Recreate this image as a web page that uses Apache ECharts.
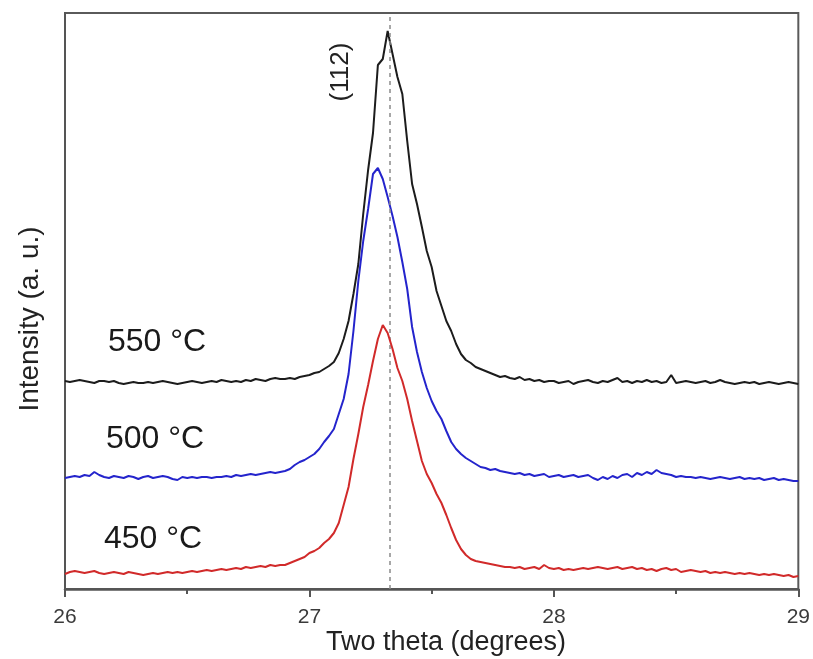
<!DOCTYPE html>
<html>
<head>
<meta charset="utf-8">
<script src="https://cdn.jsdelivr.net/npm/echarts@6/dist/echarts.min.js"></script>
<style>
html,body{margin:0;padding:0;background:#fff;}
#chart{width:813px;height:659px;}
</style>
</head>
<body>
<div id="chart"></div>
<script>
// ---- Data (intensity in arbitrary units, curves offset as in the figure) ----
const thetaStart = 26.0;
const thetaStep = 0.02;
const xTicks = [26, 27, 28, 29];
const peakPosition = 27.33;      // (112) reflection
const peakLabel = '(112)';
const seriesNames = ['550 °C', '500 °C', '450 °C'];

const int550 = [
  208,207,208,209,208,207,206,208,208,207,
  208,206,205,206,207,206,206,207,206,207,
  208,207,206,205,206,207,208,207,206,207,
  208,207,209,208,207,208,207,209,208,210,
  209,208,210,211,210,
  210,211,210,212,213,
  214,216,217,220,223,227,236,250,268,295,
  325,375,419,456,524,530,558,535,512,495,
  448,405,385,362,338,322,298,283,268,258,
  245,235,229,226,222,220,218,216,214,212,
  213,211,210,212,209,210,208,209,207,208,
  208,206,207,208,205,207,208,209,207,206,
  208,207,209,211,207,208,206,208,207,209,
  207,208,206,207,214,206,207,208,207,206,
  207,208,206,207,209,207,206,205,206,207,
  206,207,205,206,207,206,205,206,207,206,205
];

const int500 = [
  111,112,113,112,114,113,117,114,112,111,
  113,112,111,113,112,110,112,113,111,112,
  113,112,110,109,112,111,112,111,112,112,
  111,112,112,113,112,114,113,114,115,114,
  115,116,117,116,117,
  118,120,124,127,129,
  132,135,140,147,153,160,175,190,215,258,
  308,348,380,415,421,410,392,373,352,327,
  300,262,237,217,201,188,178,170,158,147,
  140,135,131,128,125,122,121,119,120,118,
  117,116,115,116,114,115,113,114,115,112,
  113,114,112,113,114,112,113,114,111,109,
  112,110,113,111,114,115,112,116,114,117,
  115,119,116,115,114,112,113,112,112,111,
  112,111,110,111,112,111,110,111,112,110,
  111,110,111,109,110,111,109,110,109,108,108
];

const int450 = [
  15,17,18,17,16,17,18,16,15,16,
  17,16,15,17,16,15,14,15,16,15,
  16,17,16,17,16,17,18,17,18,19,
  18,19,20,19,20,21,20,22,21,22,
  23,22,24,23,24,
  24,26,28,30,32,
  36,38,41,46,50,56,66,84,102,130,
  155,182,204,228,250,264,256,240,221,208,
  190,168,148,128,115,106,95,86,74,61,
  49,40,34,30,28,27,26,25,24,23,
  22,22,21,22,20,21,22,20,24,21,
  20,21,19,20,19,20,21,20,21,22,
  21,20,21,22,20,21,22,20,21,19,
  20,18,20,21,19,20,17,18,19,18,
  17,18,16,17,16,17,16,15,16,15,
  16,15,14,15,14,15,14,13,14,12,13
];

// ---- Build [x, y] pairs ----
function pairs(vals) {
  return vals.map((v, i) => [+(thetaStart + i * thetaStep).toFixed(2), v]);
}

const FONT = "'Liberation Sans', Arial, sans-serif";
const chart = echarts.init(document.getElementById('chart'), null, {renderer: 'canvas'});

const option = {
  backgroundColor: '#ffffff',
  animation: false,
  grid: {
    left: 65, right: 14, top: 13, bottom: 70,
    show: true, borderColor: '#5a5a5a', borderWidth: 2, backgroundColor: 'transparent'
  },
  xAxis: {
    type: 'value',
    min: xTicks[0], max: xTicks[xTicks.length - 1], interval: 1,
    axisLine: {show: true, onZero: false, lineStyle: {color: '#555', width: 2.5}},
    axisTick: {show: true, inside: false, length: 8, lineStyle: {color: '#555', width: 2}},
    minorTick: {show: true, splitNumber: 2, length: 5, lineStyle: {color: '#555', width: 2}},
    splitLine: {show: false},
    minorSplitLine: {show: false},
    axisLabel: {
      show: true, margin: 18, color: '#3a3a3a', fontSize: 21, fontFamily: FONT,
      formatter: v => String(Math.round(v))
    }
  },
  yAxis: {
    type: 'value', min: 0, max: 576,
    axisLine: {show: true, lineStyle: {color: '#555', width: 2}},
    axisTick: {show: false}, axisLabel: {show: false}, splitLine: {show: false}
  },
  series: [
    {
      name: seriesNames[0], type: 'line', data: pairs(int550), showSymbol: false,
      lineStyle: {color: '#1c1c1c', width: 2}, z: 3,
      markLine: {
        silent: true, symbol: 'none', label: {show: false},
        lineStyle: {color: '#8a8a8a', type: [4, 4], width: 1.5},
        data: [{xAxis: peakPosition}]
      }
    },
    {
      name: seriesNames[1], type: 'line', data: pairs(int500), showSymbol: false,
      lineStyle: {color: '#2424cc', width: 2}, z: 4
    },
    {
      name: seriesNames[2], type: 'line', data: pairs(int450), showSymbol: false,
      lineStyle: {color: '#d12a2a', width: 2}, z: 5
    }
  ],
  graphic: [
    {type: 'text', left: 108, top: 326, style: {text: seriesNames[0], font: '32px ' + FONT, fill: '#1a1a1a'}},
    {type: 'text', left: 106, top: 423, style: {text: seriesNames[1], font: '32px ' + FONT, fill: '#1a1a1a'}},
    {type: 'text', left: 104, top: 523, style: {text: seriesNames[2], font: '32px ' + FONT, fill: '#1a1a1a'}},
    {type: 'text', x: 341, y: 72, rotation: Math.PI / 2,
     style: {text: peakLabel, font: '26px ' + FONT, fill: '#222', align: 'center', verticalAlign: 'middle'}},
    {type: 'text', x: 30, y: 319, rotation: Math.PI / 2,
     style: {text: 'Intensity (a. u.)', font: '28px ' + FONT, fill: '#222', align: 'center', verticalAlign: 'middle'}},
    {type: 'text', x: 446, y: 643,
     style: {text: 'Two theta (degrees)', font: '27px ' + FONT, fill: '#222', align: 'center', verticalAlign: 'middle'}}
  ]
};
chart.setOption(option);
</script>
</body>
</html>
